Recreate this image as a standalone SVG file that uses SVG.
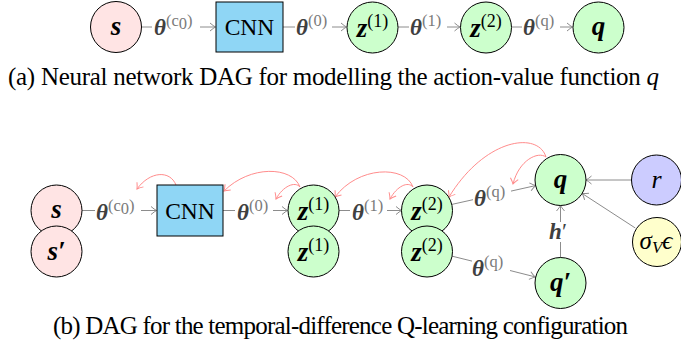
<svg xmlns="http://www.w3.org/2000/svg" width="681" height="343" viewBox="0 0 681 343">
<defs>
<marker id="ag" markerUnits="userSpaceOnUse" markerWidth="12" markerHeight="12" viewBox="-8 -6 10 12" refX="0" refY="0" orient="auto"><path d="M-5.5,-4 Q-2,-1 0,0 Q-2,1 -5.5,4" fill="none" stroke="#8c8c8c" stroke-width="1"/></marker>
<marker id="ar" markerUnits="userSpaceOnUse" markerWidth="12" markerHeight="12" viewBox="-8 -6 10 12" refX="0" refY="0" orient="auto"><path d="M-5.5,-4 Q-2,-1 0,0 Q-2,1 -5.5,4" fill="none" stroke="#ff8c8c" stroke-width="1"/></marker>
</defs>
<style>
.n{stroke:#000;stroke-width:1}
.pink{fill:#ffe4e4}
.blue{fill:#8fd6f5}
.green{fill:#ccffcc}
.purple{fill:#ccccff}
.yellow{fill:#ffffcc}
.e{fill:none;stroke:#8c8c8c;stroke-width:1;marker-end:url(#ag)}
.red{fill:none;stroke:#ff8c8c;stroke-width:1;marker-end:url(#ar)}
text{font-family:"Liberation Serif","Times New Roman",serif}
.lab{font-size:27px;font-weight:bold;font-style:italic;fill:#000}
.cnn{font-size:23.5px;fill:#000}
.sup{font-size:18px;font-weight:normal;font-style:normal}
.el{font-size:23px;fill:#404040}
.th{font-weight:bold;font-style:italic}
.es{font-size:16.5px;fill:#7a7a7a;font-weight:normal;font-style:normal}
.cap{font-size:25px;fill:#000}
</style>

<g id="connectors">
<!-- (a) -->
<path class="e" d="M141.5,27 H152 M200,27 H215.5"/>
<path class="e" d="M283,27 H295 M332,27 H346.5"/>
<path class="e" d="M398,27 H409 M447,27 H460"/>
<path class="e" d="M512,27 H522 M560,27 H572.5"/>
<!-- (b) -->
<path class="e" d="M82,210.5 H95 M141,210.5 H156.5"/>
<path class="e" d="M223,210.5 H235 M273,210.5 H287.5"/>
<path class="e" d="M339,210.5 H350 M387,210.5 H401.5"/>
<path class="e" d="M451.9,204.4 L473,199.7 M511,191.1 L535.6,185.6"/>
<path class="e" d="M451.8,256.1 L472,261.1 M510,270.5 L535.2,276.9"/>
<path class="e" d="M560.5,257.5 V242 M560.5,222 V205.5"/>
<path class="e" d="M631.5,180 H586"/>
<path class="e" d="M635.3,228 L582.2,193.5"/>
<!-- red backward arrows -->
<path class="red" d="M176,185 C170,170 150,171 137,189"/>
<path class="red" d="M300,187 C292,166 250,165 224,191"/>
<path class="red" d="M300,187 C295,181 283,186 276,199"/>
<path class="red" d="M413,187 C405,165 358,166 335,197"/>
<path class="red" d="M413,187 C408,181 397,186 390,199"/>
<path class="red" d="M546,157 C538,131 485,138 449,197"/>
<path class="red" d="M546,157 C538,151 519,160 513,184"/>
</g>

<g id="edge-labels">
<text class="el" x="154" y="35"><tspan class="th">θ</tspan><tspan class="es" dy="-9">(</tspan><tspan class="es" font-style="italic">c</tspan><tspan class="es" font-size="12" dy="3">0</tspan><tspan class="es" dy="-3">)</tspan></text>
<text class="el" x="296" y="35"><tspan class="th">θ</tspan><tspan class="es" dy="-9">(0)</tspan></text>
<text class="el" x="410" y="35"><tspan class="th">θ</tspan><tspan class="es" dy="-9">(1)</tspan></text>
<text class="el" x="523" y="35"><tspan class="th">θ</tspan><tspan class="es" dy="-9">(</tspan><tspan class="es" font-style="italic">q</tspan><tspan class="es">)</tspan></text>

<text class="el" x="96" y="219.5"><tspan class="th">θ</tspan><tspan class="es" dy="-9">(</tspan><tspan class="es" font-style="italic">c</tspan><tspan class="es" font-size="12" dy="3">0</tspan><tspan class="es" dy="-3">)</tspan></text>
<text class="el" x="237" y="219.5"><tspan class="th">θ</tspan><tspan class="es" dy="-9">(0)</tspan></text>
<text class="el" x="352" y="219.5"><tspan class="th">θ</tspan><tspan class="es" dy="-9">(1)</tspan></text>
<text class="el" x="474" y="206"><tspan class="th">θ</tspan><tspan class="es" dy="-9">(</tspan><tspan class="es" font-style="italic">q</tspan><tspan class="es">)</tspan></text>
<text class="el" x="472" y="276"><tspan class="th">θ</tspan><tspan class="es" dy="-9">(</tspan><tspan class="es" font-style="italic">q</tspan><tspan class="es">)</tspan></text>
<text class="el" x="558" y="239" text-anchor="middle"><tspan class="th">h</tspan><tspan>′</tspan></text>
</g>

<!-- (a) nodes -->
<g id="a-s"><circle class="n pink" cx="116" cy="27" r="25.5"/><text class="lab" x="116" y="35" text-anchor="middle">s</text></g>
<g id="a-cnn"><rect class="n blue" x="216" y="2" width="67" height="50"/><text class="cnn" x="249.5" y="35" text-anchor="middle">CNN</text></g>
<g id="a-z1"><circle class="n green" cx="372.5" cy="27.5" r="25.5"/><text class="lab" x="372.5" y="37" text-anchor="middle">z<tspan class="sup" dy="-10">(1)</tspan></text></g>
<g id="a-z2"><circle class="n green" cx="486" cy="27.5" r="25.5"/><text class="lab" x="486" y="37" text-anchor="middle">z<tspan class="sup" dy="-10">(2)</tspan></text></g>
<g id="a-q"><circle class="n green" cx="598.5" cy="27.5" r="25.5"/><text class="lab" x="598.5" y="35" text-anchor="middle">q</text></g>

<!-- (b) nodes -->
<g id="b-s"><circle class="n pink" cx="56.5" cy="210.5" r="25.5"/><text class="lab" x="56.5" y="218" text-anchor="middle">s</text></g>
<g id="b-s-prime"><circle class="n pink" cx="56.5" cy="251.5" r="25.5"/><text class="lab" x="56.5" y="260" text-anchor="middle">s′</text></g>
<g id="b-cnn"><rect class="n blue" x="157" y="185" width="66" height="51"/><text class="cnn" x="190" y="219" text-anchor="middle">CNN</text></g>
<g id="b-z1"><circle class="n green" cx="313.5" cy="210.5" r="25.5"/><text class="lab" x="313.5" y="220" text-anchor="middle">z<tspan class="sup" dy="-10">(1)</tspan></text></g>
<g id="b-z1-prime"><circle class="n green" cx="313.5" cy="251.5" r="25.5"/><text class="lab" x="313.5" y="261" text-anchor="middle">z<tspan class="sup" dy="-10">(1)</tspan></text></g>
<g id="b-z2"><circle class="n green" cx="427" cy="210.5" r="25.5"/><text class="lab" x="427" y="220" text-anchor="middle">z<tspan class="sup" dy="-10">(2)</tspan></text></g>
<g id="b-z2-prime"><circle class="n green" cx="427" cy="251.5" r="25.5"/><text class="lab" x="427" y="261" text-anchor="middle">z<tspan class="sup" dy="-10">(2)</tspan></text></g>
<g id="b-q"><circle class="n green" cx="560.5" cy="180" r="25.5"/><text class="lab" x="560.5" y="188" text-anchor="middle">q</text></g>
<g id="b-q-prime"><circle class="n green" cx="560.5" cy="283" r="25.5"/><text class="lab" x="560.5" y="291" text-anchor="middle">q′</text></g>
<g id="b-r"><circle class="n purple" cx="656.5" cy="180" r="25"/><text x="656.5" y="188" text-anchor="middle" font-size="26" font-style="italic">r</text></g>
<g id="b-sigma"><circle class="n yellow" cx="657" cy="242" r="24.5"/><text x="656" y="249" text-anchor="middle" font-size="25" font-style="italic">σ<tspan font-size="17" dy="4">V</tspan><tspan dy="-4">ϵ</tspan></text></g>

<g id="captions">
<text class="cap" x="8" y="85" textLength="651" lengthAdjust="spacing">(a) Neural network DAG for modelling the action-value function <tspan font-style="italic">q</tspan></text>
<text class="cap" x="53" y="334" textLength="575" lengthAdjust="spacing">(b) DAG for the temporal-difference Q-learning configuration</text>
</g>
</svg>
